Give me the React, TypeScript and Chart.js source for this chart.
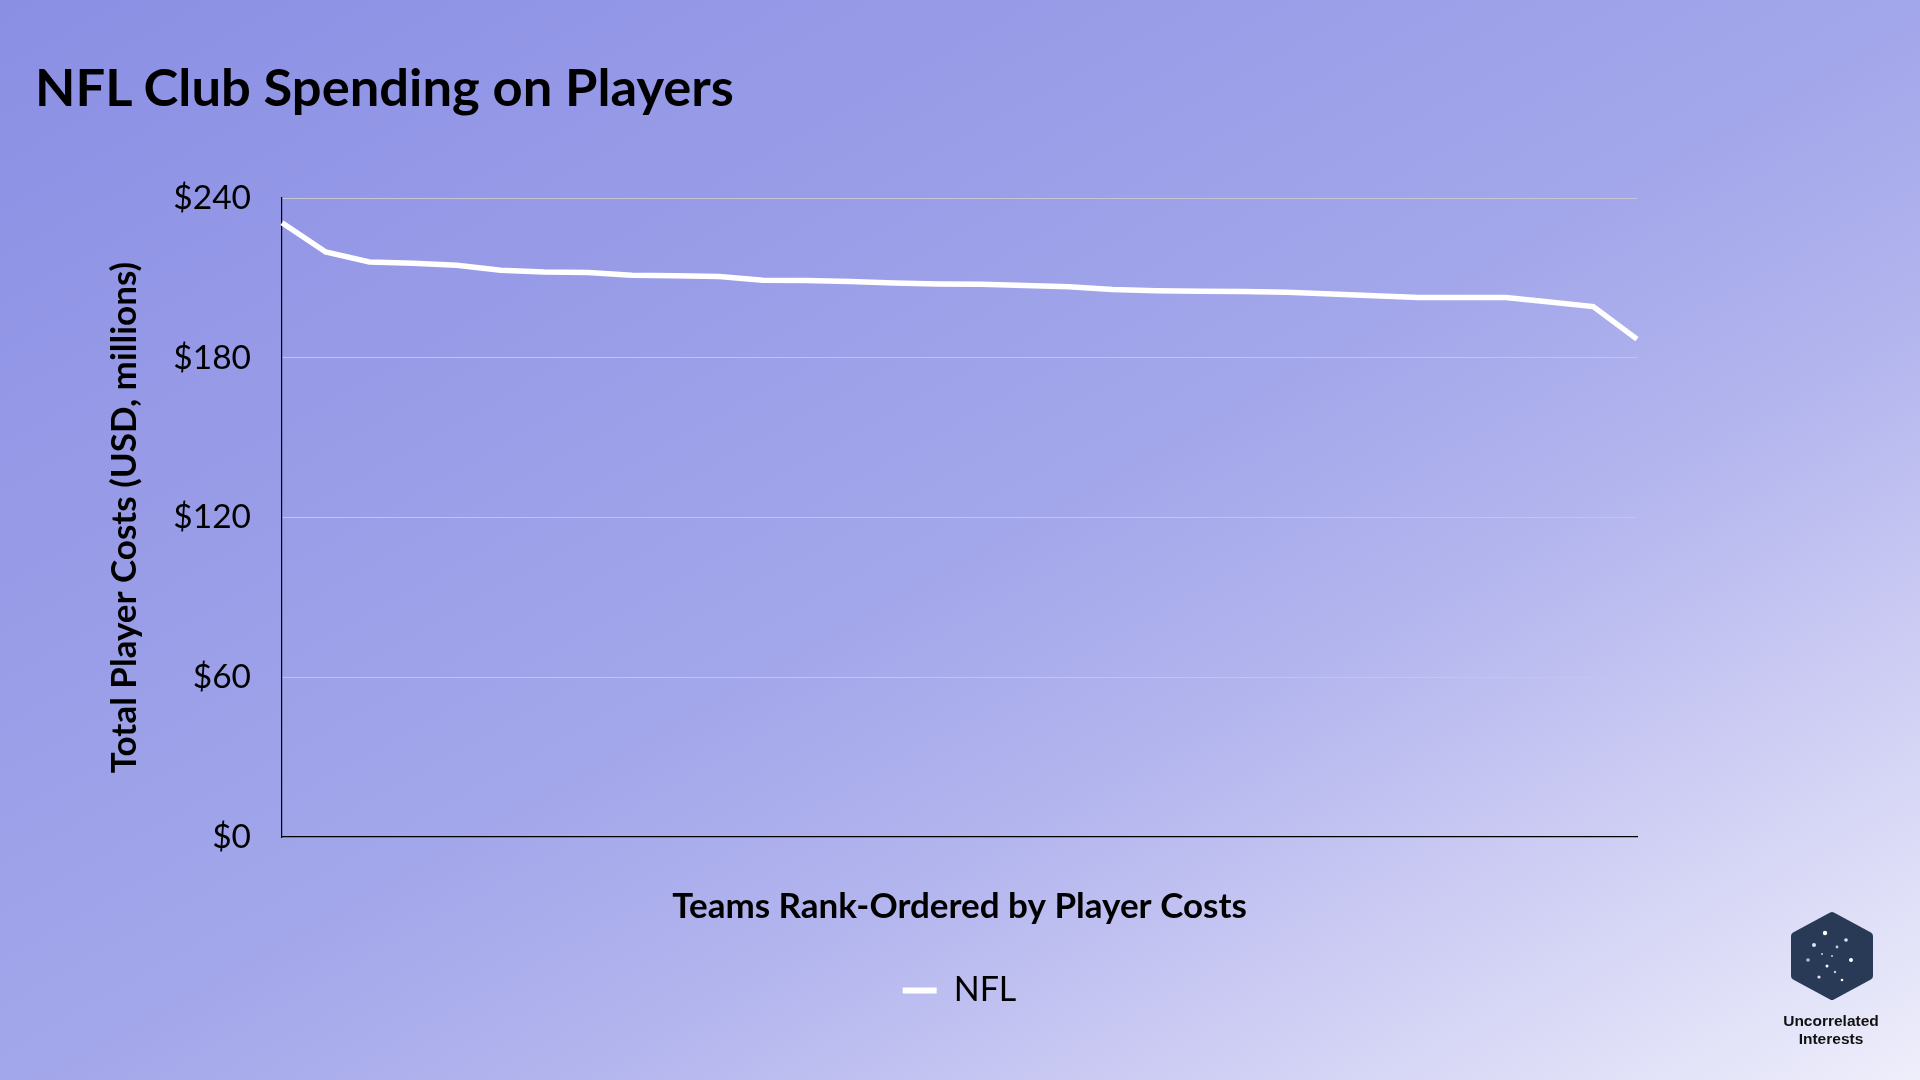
import { useEffect, useRef } from "react"
import { Chart, registerables } from "chart.js"

Chart.register(...registerables)

// Total player costs per club, rank-ordered (USD, millions)
const teamRanks = Array.from({ length: 32 }, (_, i) => `${i + 1}`)
const nflCosts = [
  230.7, 219.7, 216.0, 215.5, 214.7, 212.9, 212.2, 212.0, 211.0, 210.8, 210.5,
  209.1, 209.0, 208.6, 208.1, 207.7, 207.6, 207.1, 206.7, 205.6, 205.2, 205.0,
  204.9, 204.6, 203.9, 203.3, 202.6, 202.6, 202.6, 200.9, 199.2, 187.0,
]
const yTicks = [0, 60, 120, 180, 240]

const FONT = "Lato, 'Noto Sans', sans-serif"

export default function App() {
  const chartRef = useRef<HTMLCanvasElement>(null)
  const chartInstance = useRef<Chart | null>(null)

  useEffect(() => {
    if (!chartRef.current) return
    if (chartInstance.current) chartInstance.current.destroy()

    chartInstance.current = new Chart(chartRef.current, {
      type: "line",
      data: {
        labels: teamRanks,
        datasets: [
          {
            label: "NFL",
            data: nflCosts,
            borderColor: "#ffffff",
            backgroundColor: "#ffffff",
            borderWidth: 5.5,
            pointRadius: 0,
            tension: 0,
            fill: false,
          },
        ],
      },
      options: {
        responsive: false,
        animation: false,
        layout: {
          padding: { left: 0, top: 198, right: 283, bottom: 62.5 },
        },
        scales: {
          x: {
            grid: { display: false, drawTicks: false },
            border: { color: "#000000", width: 1.2 },
            ticks: { display: false },
            title: {
              display: true,
              text: "Teams Rank-Ordered by Player Costs",
              color: "#000000",
              font: { family: FONT, size: 35, weight: "bold" },
              padding: { top: 0, bottom: 36 },
            },
            afterFit: (scale: any) => {
              scale.height = 126.5
            },
          },
          y: {
            min: 0,
            max: 240,
            afterBuildTicks: (scale: any) => {
              scale.ticks = yTicks.map((v) => ({ value: v }))
            },
            grid: {
              color: (ctx: any) =>
                ctx.tick && ctx.tick.value === 0 ? "rgba(0,0,0,0)" : "rgba(200,200,210,0.95)",
              lineWidth: 1,
              drawTicks: false,
            },
            border: { color: "#000000", width: 1.2 },
            ticks: {
              padding: 31,
              color: "#000000",
              font: { family: FONT, size: 33.5 },
              callback: (v: any) => `$${v}`,
            },
            title: {
              display: true,
              text: "Total Player Costs (USD, millions)",
              color: "#000000",
              font: { family: FONT, size: 35, weight: "bold" },
              padding: { top: 104, bottom: 0 },
            },
            afterFit: (scale: any) => {
              scale.width = 282
            },
          },
        },
        plugins: {
          title: { display: false },
          tooltip: { enabled: false },
          legend: {
            position: "bottom",
            fullSize: false,
            labels: {
              boxWidth: 34,
              boxHeight: 6,
              padding: 10,
              color: "#000000",
              font: { family: FONT, size: 34 },
              generateLabels: (chart: any) =>
                Chart.defaults.plugins.legend.labels
                  .generateLabels(chart)
                  .map((l: any) => ({ ...l, lineWidth: 0, fillStyle: "#ffffff", strokeStyle: "rgba(0,0,0,0)" })),
            },
          },
        },
      },
    })

    return () => {
      if (chartInstance.current) {
        chartInstance.current.destroy()
        chartInstance.current = null
      }
    }
  }, [])

  return (
    <div
      style={{
        position: "fixed",
        left: 0,
        top: 0,
        width: 1920,
        height: 1080,
        overflow: "hidden",
        background:
          "linear-gradient(to bottom right, #8b8fe4 0%, #a2a6ea 50%, #b3b5ee 65%, #cdcdf4 80%, #eeeefb 100%)",
      }}
    >
      <div
        style={{
          position: "absolute",
          left: 35,
          top: 53.5,
          fontFamily: FONT,
          fontWeight: 700,
          fontSize: 52.5,
          lineHeight: "63px",
          color: "#000000",
          whiteSpace: "nowrap",
        }}
      >
        NFL Club Spending on Players
      </div>
      <canvas
        ref={chartRef}
        width={1920}
        height={1080}
        style={{ position: "absolute", left: 0, top: 0, width: 1920, height: 1080 }}
      />
      <svg
        width={94}
        height={96}
        viewBox="0 0 94 96"
        style={{ position: "absolute", left: 1785, top: 908 }}
      >
        <polygon
          points="47,8 84,28 84,68 47,88 10,68 10,28"
          fill="#283a55"
          stroke="#283a55"
          strokeWidth={8}
          strokeLinejoin="round"
        />
        <circle cx="40" cy="25" r="2.2" fill="#ffffff" />
        <circle cx="29" cy="37" r="2" fill="#dfe0ff" />
        <circle cx="52" cy="39" r="1.4" fill="#c9cbf5" />
        <circle cx="61" cy="32" r="1.8" fill="#dfe0ff" />
        <circle cx="66" cy="52" r="2" fill="#ffffff" />
        <circle cx="23" cy="52" r="1.8" fill="#b7b9f0" />
        <circle cx="42" cy="58" r="1.5" fill="#ffffff" />
        <circle cx="34" cy="69" r="1.6" fill="#dfe0ff" />
        <circle cx="50" cy="64" r="1.2" fill="#c9cbf5" />
        <circle cx="57" cy="72" r="1.3" fill="#ffffff" />
        <circle cx="47" cy="48" r="1" fill="#c9cbf5" />
        <circle cx="37" cy="46" r="1" fill="#c9cbf5" />
      </svg>
      <div
        style={{
          position: "absolute",
          left: 1756,
          top: 1012,
          width: 150,
          textAlign: "center",
          fontFamily: "'Liberation Sans', Arial, sans-serif",
          fontWeight: 700,
          fontSize: 15.5,
          lineHeight: "18px",
          color: "#111111",
        }}
      >
        Uncorrelated
        <br />
        Interests
      </div>
    </div>
  )
}
